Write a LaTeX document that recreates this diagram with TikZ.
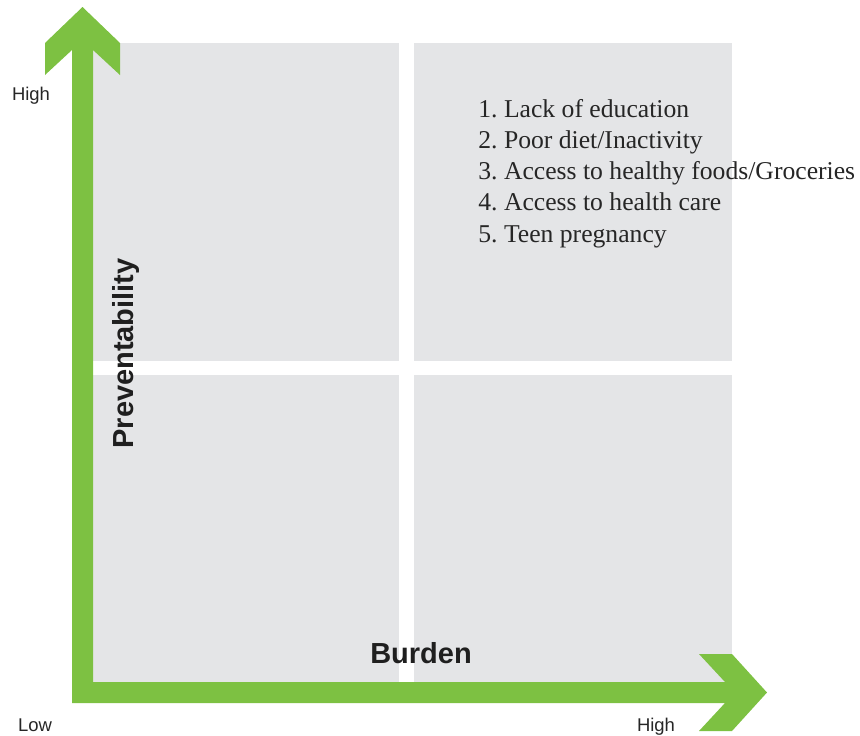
\documentclass[tikz,border=0pt]{standalone}
\usepackage{fontspec}
\setmainfont{Liberation Serif}
\setsansfont{Liberation Sans}
\usepackage{xcolor}
\usepackage{tikz}
\frenchspacing
\definecolor{axisgreen}{HTML}{7DC142}
\definecolor{quadgray}{HTML}{E4E5E7}
\tikzset{
	quad/.style={fill=quadgray},
	axislabel/.style={font=\sffamily\fontsize{10.5}{12}\selectfont, inner sep=0pt, anchor=base, text=black!85},
	axistitle/.style={font=\sffamily\bfseries\fontsize{16.5}{19}\selectfont, inner sep=0pt, anchor=base, text=black!88},
	listitem/.style={font=\fontsize{14.6}{17.8}\selectfont, inner sep=0pt, anchor=base west, text=black!85}
}

\begin{document}
\begin{tikzpicture}[x=0.02cm,y=-0.02cm]
			\useasboundingbox (0,0) rectangle (860,735);
			% quadrants
			\fill[quad] (72,43) rectangle (399,361);
			\fill[quad] (414,43) rectangle (732,361);
			\fill[quad] (72,375) rectangle (399,682);
			\fill[quad] (414,375) rectangle (732,682);
			%
			\coordinate (O) at (72,703);
			\coordinate (ytip) at (82.5,7);
			\coordinate (xtip) at (767,692.5);
			\fill[axisgreen] (O) -- (72,50) -- (45,75) -- (45,43) -- (ytip)
				-- (120,43) -- (120,75) -- (93,50) -- (93,682)
				-- (725,682) -- (699,654) -- (732,654) -- (xtip)
				-- (732,731) -- (699,731) -- (725,703) -- cycle;
			%
			\node[axislabel] (yhigh) at (31,100) {High};
			\node[axislabel] (low) at (35,731) {Low};
			\node[axislabel] (xhigh) at (656,731) {High};
			\node[axistitle] (burden) at (421,663) {Burden};
			\node[axistitle, rotate=90] (prev) at (133,353.5) {Preventability};
			%
			\node[listitem] (item1) at (478,117) {1. Lack of education};
			\node[listitem] (item2) at (478,148.3) {2. Poor diet/Inactivity};
			\node[listitem] (item3) at (478,179.6) {3. Access to healthy foods/Groceries};
			\node[listitem] (item4) at (478,210.9) {4. Access to health care};
			\node[listitem] (item5) at (478,242.2) {5. Teen pregnancy};
		\end{tikzpicture}
\end{document}
